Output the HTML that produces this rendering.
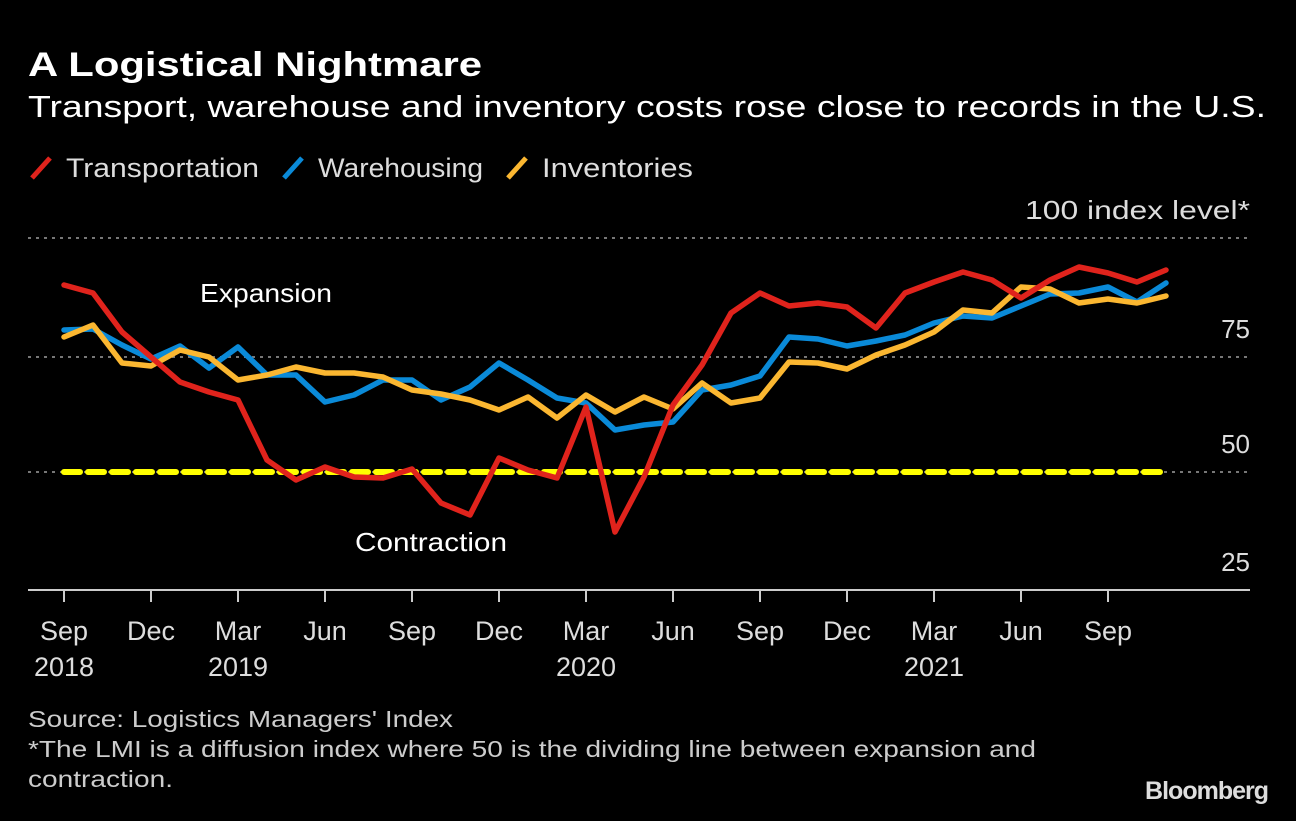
<!DOCTYPE html>
<html><head><style>
body{margin:0;background:#000;width:1296px;height:816px;overflow:hidden;font-family:"Liberation Sans",sans-serif;color:#fff}
</style></head><body>
<svg width="1296" height="816" xmlns="http://www.w3.org/2000/svg" font-family="Liberation Sans, sans-serif">
<rect width="1296" height="816" fill="#000"/>
<text x="28" y="76" font-size="34" font-weight="bold" fill="#fff" textLength="454" lengthAdjust="spacingAndGlyphs">A Logistical Nightmare</text>
<text x="28" y="117" font-size="31" fill="#fff" textLength="1238" lengthAdjust="spacingAndGlyphs">Transport, warehouse and inventory costs rose close to records in the U.S.</text>
<g font-size="27" fill="#ddd">
<line x1="32" y1="178" x2="50" y2="158" stroke="#e0231c" stroke-width="5"/>
<text x="66" y="177" textLength="193" lengthAdjust="spacingAndGlyphs">Transportation</text>
<line x1="284" y1="178" x2="302" y2="158" stroke="#0a8ad8" stroke-width="5"/>
<text x="318" y="177" textLength="165" lengthAdjust="spacingAndGlyphs">Warehousing</text>
<line x1="508" y1="178" x2="526" y2="158" stroke="#fbb731" stroke-width="5"/>
<text x="542" y="177" textLength="151" lengthAdjust="spacingAndGlyphs">Inventories</text>
</g>
<g stroke="#777" stroke-width="2" stroke-dasharray="3,5">
<line x1="28" y1="238" x2="1250" y2="238"/>
<line x1="28" y1="357" x2="1250" y2="357"/>
<line x1="28" y1="472" x2="1250" y2="472"/>
</g>
<g font-size="26" fill="#ddd" text-anchor="end">
<text x="1250" y="219" textLength="225" lengthAdjust="spacingAndGlyphs">100 index level*</text>
<text x="1250" y="338">75</text>
<text x="1250" y="453">50</text>
<text x="1250" y="571">25</text>
</g>
<line x1="28" y1="590" x2="1250" y2="590" stroke="#ccc" stroke-width="2"/>
<g stroke="#ccc" stroke-width="2">
<line x1="64" y1="590" x2="64" y2="602"/><line x1="151" y1="590" x2="151" y2="602"/><line x1="238" y1="590" x2="238" y2="602"/><line x1="325" y1="590" x2="325" y2="602"/><line x1="412" y1="590" x2="412" y2="602"/><line x1="499" y1="590" x2="499" y2="602"/><line x1="586" y1="590" x2="586" y2="602"/><line x1="673" y1="590" x2="673" y2="602"/><line x1="760" y1="590" x2="760" y2="602"/><line x1="847" y1="590" x2="847" y2="602"/><line x1="934" y1="590" x2="934" y2="602"/><line x1="1021" y1="590" x2="1021" y2="602"/><line x1="1108" y1="590" x2="1108" y2="602"/>
</g>
<g font-size="27" fill="#ddd" text-anchor="middle">
<text x="64" y="640">Sep</text><text x="64" y="676">2018</text>
<text x="151" y="640">Dec</text>
<text x="238" y="640">Mar</text><text x="238" y="676">2019</text>
<text x="325" y="640">Jun</text>
<text x="412" y="640">Sep</text>
<text x="499" y="640">Dec</text>
<text x="586" y="640">Mar</text><text x="586" y="676">2020</text>
<text x="673" y="640">Jun</text>
<text x="760" y="640">Sep</text>
<text x="847" y="640">Dec</text>
<text x="934" y="640">Mar</text><text x="934" y="676">2021</text>
<text x="1021" y="640">Jun</text>
<text x="1108" y="640">Sep</text>
</g>
<text x="200" y="302" font-size="26" fill="#fff" textLength="132" lengthAdjust="spacingAndGlyphs">Expansion</text>
<text x="355" y="551" font-size="26" fill="#fff" textLength="152" lengthAdjust="spacingAndGlyphs">Contraction</text>
<line x1="64" y1="472" x2="1166" y2="472" stroke="#ffff00" stroke-width="6" stroke-dasharray="16,8" stroke-linecap="round"/>
<g fill="none" stroke-width="5.5" stroke-linejoin="round" stroke-linecap="round">
<polyline stroke="#0a8ad8" points="64,330 93,329 122,345 151,359 180,346 209,368 238,347 267,375 296,375 325,402 354,395 383,380 412,380 441,400 470,387 499,363 528,380 557,398 586,403 615,430 644,425 673,422 702,390 731,385 760,376 789,337 818,339 847,346 876,341 905,335 934,323 963,316 992,318 1021,306 1050,294 1079,293 1108,287 1137,302 1166,283"/>
<polyline stroke="#fbb731" points="64,337 93,325 122,363 151,366 180,350 209,357 238,380 267,375 296,367 325,373 354,373 383,377 412,390 441,394 470,400 499,410 528,397 557,418 586,395 615,412 644,397 673,409 702,383 731,403 760,398 789,362 818,363 847,369 876,355 905,345 934,332 963,310 992,313 1021,287 1050,289 1079,303 1108,299 1137,303 1166,296"/>
<polyline stroke="#e0231c" points="64,285 93,293 122,332 151,357 180,382 209,392 238,400 267,460 296,480 325,467 354,477 383,478 412,469 441,503 470,515 499,458 528,470 557,478 586,407 615,532 644,477 673,405 702,365 731,313 760,293 789,306 818,303 847,307 876,328 905,293 934,282 963,272 992,280 1021,298 1050,280 1079,267 1108,273 1137,282 1166,270"/>
</g>
<g font-size="23" fill="#ccc">
<text x="28" y="727" textLength="425" lengthAdjust="spacingAndGlyphs">Source: Logistics Managers' Index</text>
<text x="28" y="757" textLength="1008" lengthAdjust="spacingAndGlyphs">*The LMI is a diffusion index where 50 is the dividing line between expansion and</text>
<text x="28" y="787" textLength="145" lengthAdjust="spacingAndGlyphs">contraction.</text>
</g>
<text x="1268" y="799" font-size="25" font-weight="bold" fill="#ddd" text-anchor="end" letter-spacing="-1">Bloomberg</text>
</svg>
</body></html>
